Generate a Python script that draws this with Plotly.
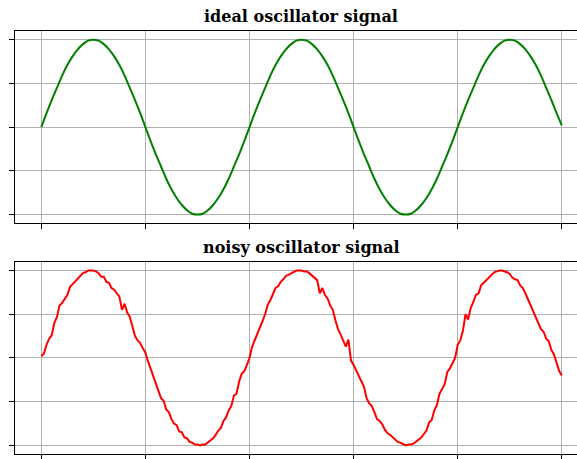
import plotly.graph_objects as go
from plotly.subplots import make_subplots

# time axis (seconds), ideal sampled every 0.01 s, noisy every 0.005 s
t_ideal = [i / 100 for i in range(101)]
t_noisy = [i / 200 for i in range(201)]
t_ticks = [0.0, 0.2, 0.4, 0.6, 0.8, 1.0]
y_ticks = [-1.0, -0.5, 0.0, 0.5, 1.0]

ideal = [
    0.00, 0.16, 0.31, 0.45, 0.59, 0.71, 0.81, 0.89, 0.95, 0.99,
    1.00, 0.99, 0.95, 0.89, 0.81, 0.71, 0.59, 0.45, 0.31, 0.16,
    0.00, -0.16, -0.31, -0.45, -0.59, -0.71, -0.81, -0.89, -0.95, -0.99,
    -1.00, -0.99, -0.95, -0.89, -0.81, -0.71, -0.59, -0.45, -0.31, -0.16,
    0.00, 0.16, 0.31, 0.45, 0.59, 0.71, 0.81, 0.89, 0.95, 0.99,
    1.00, 0.99, 0.95, 0.89, 0.81, 0.71, 0.59, 0.45, 0.31, 0.16,
    0.00, -0.16, -0.31, -0.45, -0.59, -0.71, -0.81, -0.89, -0.95, -0.99,
    -1.00, -0.99, -0.95, -0.89, -0.81, -0.71, -0.59, -0.45, -0.31, -0.16,
    0.00, 0.16, 0.31, 0.45, 0.59, 0.71, 0.81, 0.89, 0.95, 0.99,
    1.00, 0.99, 0.95, 0.89, 0.81, 0.71, 0.59, 0.45, 0.31, 0.16,
    0.02,
]

noisy = [
    0.02, 0.05, 0.15, 0.22, 0.26, 0.40, 0.47, 0.60, 0.63, 0.67,
    0.72, 0.81, 0.84, 0.87, 0.90, 0.94, 0.97, 0.98, 1.00, 1.00,
    1.00, 0.99, 0.97, 0.93, 0.93, 0.87, 0.86, 0.80, 0.78, 0.74,
    0.70, 0.55, 0.62, 0.52, 0.47, 0.36, 0.25, 0.20, 0.17, 0.11,
    0.06, -0.04, -0.12, -0.22, -0.29, -0.36, -0.46, -0.49, -0.59, -0.62,
    -0.70, -0.75, -0.77, -0.84, -0.85, -0.91, -0.92, -0.96, -0.97, -0.99,
    -0.99, -1.00, -0.99, -0.99, -0.97, -0.95, -0.92, -0.88, -0.83, -0.80,
    -0.72, -0.68, -0.60, -0.55, -0.43, -0.41, -0.27, -0.18, -0.15, -0.08,
    0.00, 0.13, 0.20, 0.27, 0.33, 0.42, 0.50, 0.61, 0.66, 0.74,
    0.80, 0.82, 0.87, 0.90, 0.94, 0.95, 0.97, 0.99, 1.00, 1.00,
    1.00, 0.99, 0.99, 0.97, 0.94, 0.91, 0.89, 0.74, 0.80, 0.72,
    0.68, 0.60, 0.55, 0.43, 0.33, 0.27, 0.20, 0.13, 0.21, -0.03,
    -0.08, -0.15, -0.20, -0.27, -0.33, -0.46, -0.52, -0.55, -0.62, -0.70,
    -0.72, -0.76, -0.82, -0.86, -0.88, -0.91, -0.94, -0.96, -0.97, -0.99,
    -1.00, -0.99, -0.99, -0.98, -0.96, -0.94, -0.91, -0.87, -0.83, -0.74,
    -0.71, -0.60, -0.54, -0.41, -0.35, -0.30, -0.16, -0.12, -0.06, 0.00,
    0.15, 0.20, 0.31, 0.50, 0.44, 0.57, 0.64, 0.72, 0.74, 0.83,
    0.86, 0.89, 0.93, 0.96, 0.98, 0.99, 1.00, 1.00, 0.99, 0.98,
    0.96, 0.92, 0.90, 0.89, 0.83, 0.80, 0.74, 0.67, 0.60, 0.54,
    0.47, 0.38, 0.33, 0.30, 0.22, 0.19, 0.09, 0.04, -0.05, -0.15,
    -0.20,
]

W, H = 577, 459
fig = make_subplots(rows=2, cols=1)

fig.add_trace(go.Scatter(x=t_ideal, y=ideal, mode="lines",
                         line=dict(color="#008000", width=2, shape="spline")),
              row=1, col=1)
fig.add_trace(go.Scatter(x=t_noisy, y=noisy, mode="lines",
                         line=dict(color="#ff0000", width=2)), row=2, col=1)

axis_common = dict(showgrid=True, gridcolor="#b0b0b0", gridwidth=1,
                   zeroline=False, showline=True, linecolor="black", linewidth=1,
                   ticks="outside", ticklen=5, tickwidth=1, tickcolor="black",
                   showticklabels=False)

xdom = [15.3 / W, 1.0]
fig.update_xaxes(axis_common, tickvals=t_ticks, range=[-0.05, 1.0292],
                 mirror=True, domain=xdom)
fig.update_yaxes(axis_common, tickvals=y_ticks, range=[-1.1, 1.1], mirror=False)
fig.update_yaxes(domain=[1 - 224.8 / H, 1 - 31.2 / H], row=1, col=1)
fig.update_yaxes(domain=[1 - 457.1 / H, 1 - 263.5 / H], row=2, col=1)

title_font = dict(family="DejaVu Serif", size=16, color="black")
cx = 301 / W
for text, ypx in [("<b>ideal oscillator signal</b>", 17),
                  ("<b>noisy oscillator signal</b>", 249)]:
    fig.add_annotation(text=text, xref="paper", yref="paper", x=cx, y=1 - ypx / H,
                       xanchor="center", yanchor="middle", showarrow=False,
                       font=title_font)

fig.update_layout(width=W, height=H, showlegend=False,
                  margin=dict(l=0, r=0, t=0, b=0),
                  plot_bgcolor="white", paper_bgcolor="white")

fig.write_html("out.html", config={"displayModeBar": False},
               post_script="document.body.style.margin='0';")
